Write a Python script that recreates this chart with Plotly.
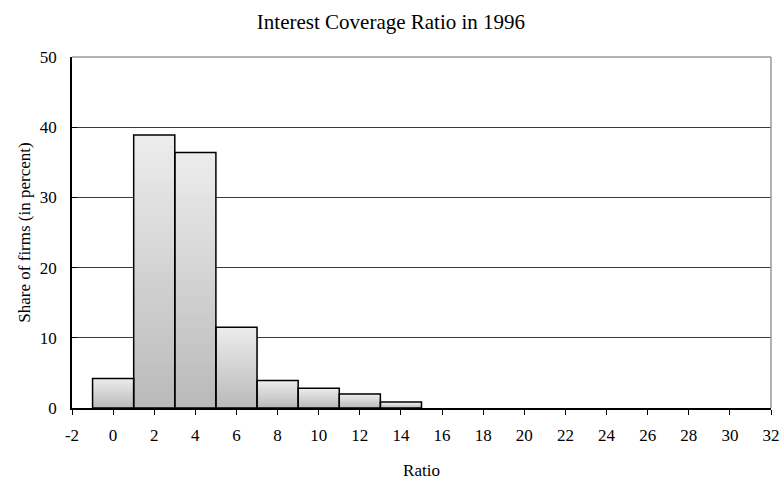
import plotly.graph_objects as go

# Histogram of firms by interest coverage ratio (bins of width 2)
bin_centers = [0, 2, 4, 6, 8, 10, 12, 14]
share_pct = [4.2, 38.9, 36.4, 11.5, 3.9, 2.8, 2.0, 0.85]
x_ticks = list(range(-2, 33, 2))
x_tick_text = [str(v) for v in x_ticks]  # plain hyphen for "-2"
y_ticks = [0, 10, 20, 30, 40, 50]

FONT = "Liberation Serif, Times New Roman, serif"
N_STEPS = 48
TOP_RGB = (236, 236, 236)
BOT_RGB = (186, 186, 186)

fig = go.Figure()

# vertical grey gradient inside each bar: each layer runs from its own
# base up to the bar top, so later (lighter) layers cover the upper part
for k in range(N_STEPS):
    t = k / (N_STEPS - 1)
    rgb = tuple(round(b + (a - b) * t) for a, b in zip(TOP_RGB, BOT_RGB))
    fig.add_trace(go.Bar(
        x=bin_centers,
        y=[v * (1 - k / N_STEPS) for v in share_pct],
        base=[v * k / N_STEPS for v in share_pct],
        width=2,
        marker=dict(color="rgb(%d,%d,%d)" % rgb, line=dict(width=0)),
        hoverinfo="skip",
        showlegend=False,
    ))

# black outline around each bar
fig.add_trace(go.Bar(
    x=bin_centers,
    y=share_pct,
    width=2,
    marker=dict(color="rgba(0,0,0,0)", line=dict(color="black", width=1.5)),
    showlegend=False,
))

fig.update_layout(
    width=782,
    height=480,
    barmode="overlay",
    plot_bgcolor="white",
    paper_bgcolor="white",
    margin=dict(l=72, r=11, t=57, b=72),
    font=dict(family=FONT, size=17, color="black"),
    title=dict(
        text="Interest Coverage Ratio in 1996",
        x=0.5, xanchor="center", y=0.955, yanchor="middle",
        font=dict(family=FONT, size=21, color="black"),
    ),
    xaxis=dict(
        range=[-2, 32],
        tickmode="array",
        tickvals=x_ticks,
        ticktext=x_tick_text,
        ticks="outside",
        ticklen=5,
        tickcolor="black",
        ticklabelstandoff=6,
        showline=True,
        linecolor="black",
        linewidth=1.5,
        showgrid=False,
        zeroline=False,
        automargin=False,
        tickfont=dict(family=FONT, size=17),
        title=dict(text="Ratio", standoff=26, font=dict(family=FONT, size=17)),
    ),
    yaxis=dict(
        range=[0, 50],
        tickmode="array",
        tickvals=y_ticks,
        ticks="inside",
        ticklen=5,
        tickcolor="black",
        ticklabelstandoff=10,
        showline=True,
        linecolor="black",
        linewidth=1.5,
        showgrid=True,
        gridcolor="#3a3a3a",
        gridwidth=1,
        zeroline=False,
        automargin=False,
        tickfont=dict(family=FONT, size=17),
        title=dict(text="Share of firms (in percent)", standoff=5,
                   font=dict(family=FONT, size=17)),
    ),
    shapes=[
        dict(type="line", xref="paper", yref="paper", x0=0, x1=1, y0=1, y1=1,
             line=dict(color="#9a9a9a", width=1.5)),
        dict(type="line", xref="paper", yref="paper", x0=1, x1=1, y0=0, y1=1,
             line=dict(color="#9a9a9a", width=1.5)),
    ],
)

fig.write_html("out.html")
